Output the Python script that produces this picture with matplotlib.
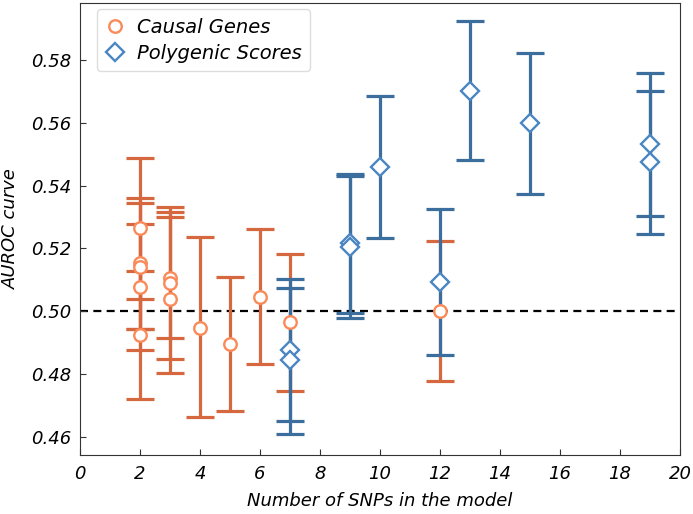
import numpy as np
from matplotlib import pyplot as plt

# Causal genes: x, mean AUROC, lower and upper error
cg_x = [2, 2, 2, 2, 2, 3, 3, 3, 4, 5, 6, 7, 12]
cg_y = [0.5264, 0.5154, 0.5141, 0.5076, 0.4923, 0.5106, 0.5090, 0.5039,
        0.4948, 0.4897, 0.5046, 0.4964, 0.5001]
cg_lo = [0.5039, 0.4943, 0.4943, 0.4876, 0.4719, 0.4913, 0.4849, 0.4804,
         0.4663, 0.4681, 0.4833, 0.4747, 0.4777]
cg_hi = [0.5488, 0.5360, 0.5344, 0.5278, 0.5129, 0.5317, 0.5333, 0.5299,
         0.5235, 0.5110, 0.5262, 0.5182, 0.5224]

# Polygenic scores
ps_x = [7, 7, 9, 9, 10, 12, 13, 15, 19, 19]
ps_y = [0.4876, 0.4846, 0.5216, 0.5205, 0.5460, 0.5094, 0.5703, 0.5599,
        0.5532, 0.5474]
ps_lo = [0.4651, 0.4610, 0.4993, 0.4977, 0.5233, 0.4861, 0.5481, 0.5373,
         0.5303, 0.5246]
ps_hi = [0.5102, 0.5074, 0.5437, 0.5431, 0.5686, 0.5326, 0.5925, 0.5822,
         0.5758, 0.5702]

plt.rc('font', family='DejaVu Sans', style='italic', size=13)

fig = plt.figure(figsize=(6.93, 5.14), dpi=100)
ax = fig.add_axes([0.1154, 0.115, 0.8658, 0.879])


def draw(x, y, lo, hi, bar_color, edge_color, marker, label):
    y = np.array(y)
    err = [y - np.array(lo), np.array(hi) - y]
    ax.errorbar(x, y, yerr=err, fmt='none', ecolor=bar_color,
                elinewidth=2.3, capsize=10, capthick=2.3, zorder=2)
    ax.plot(x, y, linestyle='none', marker=marker, markersize=9,
            markerfacecolor='white', markeredgecolor=edge_color,
            markeredgewidth=1.7, label=label, zorder=3)


draw(cg_x, cg_y, cg_lo, cg_hi, '#d6683f', '#fa8a58', 'o', 'Causal Genes')
draw(ps_x, ps_y, ps_lo, ps_hi, '#3b6e9d', '#4a86c2', 'D', 'Polygenic Scores')

ax.axhline(0.5, color='black', linestyle=(0, (3.6, 2.4)), linewidth=1.6,
           zorder=1)

ax.set_xlim(0, 20)
ax.set_ylim(0.4542, 0.5982)
ax.set_xticks(np.arange(0, 21, 2))
ax.set_yticks([0.46, 0.48, 0.50, 0.52, 0.54, 0.56, 0.58])
ax.set_yticklabels(['0.46', '0.48', '0.50', '0.52', '0.54', '0.56', '0.58'])
ax.tick_params(direction='in', length=4, labelsize=13, color='#333333')
ax.tick_params(axis='x', pad=7)
ax.tick_params(axis='y', pad=6)
for s in ax.spines.values():
    s.set_color('#333333')

ax.set_xlabel('Number of SNPs in the model', fontsize=13, labelpad=7)
ax.set_ylabel('AUROC curve', fontsize=13, labelpad=8)

ax.legend(loc='upper left', bbox_to_anchor=(0.028, 0.987), fontsize=14,
          handlelength=1.0, handletextpad=0.6, labelspacing=0.35,
          borderaxespad=0, borderpad=0.45, framealpha=1,
          edgecolor='#dddddd')

fig.savefig('out.png', dpi=100)
